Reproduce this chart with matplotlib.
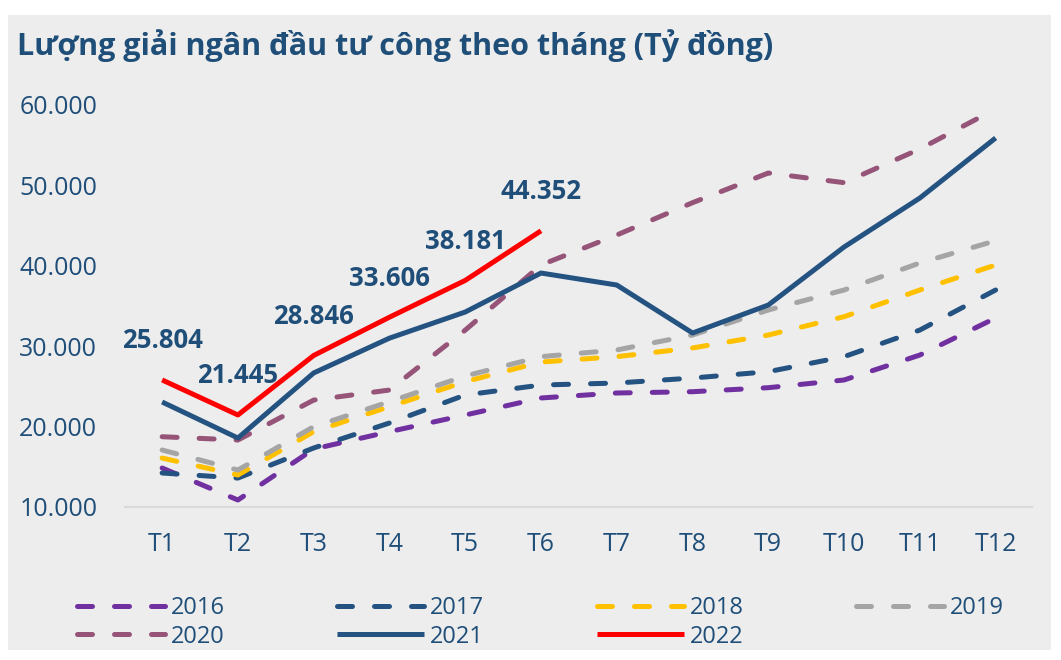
import matplotlib.pyplot as plt
from matplotlib.patches import Rectangle

plt.rcParams['font.family'] = ['Open Sans', 'DejaVu Sans']

months = ['T1', 'T2', 'T3', 'T4', 'T5', 'T6', 'T7', 'T8', 'T9', 'T10', 'T11', 'T12']

# values (ty dong)
v2016 = [14850, 10870, 17210, 19370, 21440, 23560, 24180, 24340, 24840, 25800, 28900, 33510]
v2017 = [14230, 13600, 17340, 20450, 23930, 25170, 25420, 26040, 26830, 28700, 32010, 36990]
v2018 = [16090, 13980, 19370, 22480, 25590, 28030, 28700, 29780, 31390, 33670, 36990, 40100]
v2019 = [17090, 14600, 19990, 23100, 26290, 28700, 29530, 31390, 34500, 36990, 40350, 43120]
v2020 = [18740, 18330, 23300, 24550, 32000, 40100, 43830, 47850, 51540, 50340, 54530, 59500]
v2021 = [23060, 18580, 26670, 31000, 34250, 39100, 37610, 31640, 35120, 42340, 48430, 55900]
v2022 = [25804, 21445, 28846, 33606, 38181, 44352]

yticks = [10000, 20000, 30000, 40000, 50000, 60000]

navy = '#1F4E79'
bg = '#EDEDED'

fig = plt.figure(figsize=(10.61, 6.6), dpi=100, facecolor='white')
# grey panel behind everything
fig.patches.append(Rectangle((8 / 1061, 10 / 660), 1043 / 1061, 635 / 660,
                             transform=fig.transFigure, facecolor=bg,
                             edgecolor='none', zorder=-5))

ax = fig.add_axes([125 / 1061, (660 - 507) / 660, 907 / 1061, (507 - 105) / 660])
ax.set_facecolor('none')

x = list(range(len(months)))
dash = (0, (3.0, 4.4))
lw = 3.6

series = [
    ('2016', v2016, '#7030A0', dash),
    ('2017', v2017, '#245381', dash),
    ('2018', v2018, '#FFC000', dash),
    ('2019', v2019, '#A5A5A5', dash),
    ('2020', v2020, '#955478', dash),
    ('2021', v2021, '#245381', '-'),
    ('2022', v2022, '#FF0000', '-'),
]

lines = {}
for name, vals, col, ls in series:
    ln, = ax.plot(x[:len(vals)], vals, color=col, lw=lw, linestyle=ls,
                  dash_capstyle='round', solid_capstyle='butt', clip_on=False,
                  label=name)
    lines[name] = ln

# data labels on 2022
for i, v in enumerate(v2022):
    lab = f'{v:,}'.replace(',', '.')
    ax.annotate(lab, (x[i], v), xytext=(0, 39), textcoords='offset pixels',
                ha='center', va='center', fontsize=18.5, fontweight='bold', color=navy)

ax.set_xlim(-0.49, 11.48)
ax.set_ylim(10000, 60000)
ax.set_xticks(x)
ax.set_xticklabels(months)
ax.set_yticks(yticks)
ax.set_yticklabels([f'{t:,}'.replace(',', '.') for t in yticks])
ax.tick_params(length=0, labelsize=18, labelcolor=navy)
ax.tick_params(axis='x', pad=18)
ax.tick_params(axis='y', pad=20)
for s in ['top', 'right', 'left']:
    ax.spines[s].set_visible(False)
ax.spines['bottom'].set_color('#D9D9D9')
ax.spines['bottom'].set_linewidth(1.5)

fig.text(17 / 1061, 1 - 46 / 660, 'Lượng giải ngân đầu tư công theo tháng (Tỷ đồng)',
         fontsize=22, fontweight='bold', color=navy, va='center', ha='left')

order = ['2016', '2020', '2017', '2021', '2018', '2022', '2019']
fig.legend([lines[k] for k in order], order, loc='lower left', ncol=4,
           bbox_to_anchor=(68 / 1061, 2 / 660, 945 / 1061, 66 / 660), mode='expand',
           frameon=False, fontsize=17, labelcolor=navy, handlelength=3.7,
           handletextpad=0.25, labelspacing=0.2, borderaxespad=0)

fig.savefig('out.png', dpi=100, facecolor='white')
